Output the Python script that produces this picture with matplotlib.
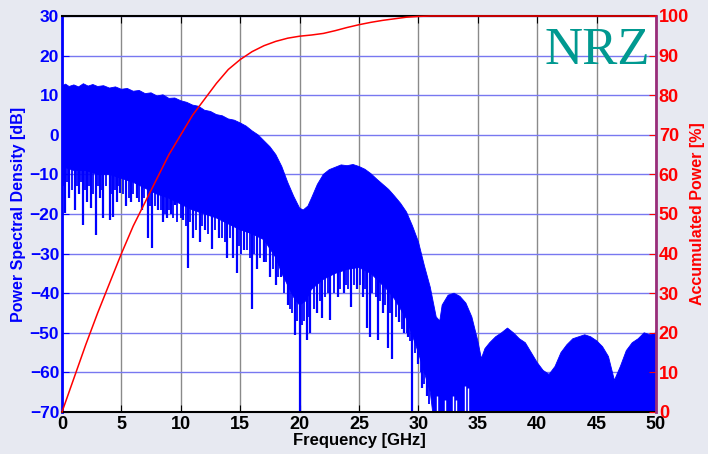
import matplotlib
matplotlib.use("Agg")
import matplotlib.pyplot as plt
import numpy as np

# ---- data ----
# upper envelope of the power spectral density (GHz, dB)
freq_up = [0, 0.3, 0.6, 1, 1.4, 1.8, 2.2, 2.6, 3, 3.5, 4, 4.5, 5, 5.5, 6, 6.5, 7, 7.5, 8,
           8.5, 9, 9.5, 10, 10.5, 11, 11.5, 12, 12.5, 13, 13.5, 14, 14.5, 15, 15.5, 16,
           16.5, 17, 17.5, 18, 18.5, 19, 19.5, 20, 20.3, 20.7, 21, 21.5, 22, 22.5, 23,
           23.5, 24, 24.5, 25, 25.5, 26, 26.5, 27, 27.5, 28, 28.5, 29, 29.5, 30, 30.5,
           31, 31.5, 31.8, 32, 32.5, 33, 33.5, 34, 34.5, 35, 35.3, 35.6, 36, 36.5, 37,
           37.5, 38, 38.5, 39, 39.5, 40, 40.5, 41, 41.5, 42, 42.5, 43, 43.5, 44, 44.5,
           45, 45.5, 46, 46.5, 47, 47.5, 48, 48.5, 49, 49.5, 50]
psd_up = [12.3, 12.8, 12.2, 12.6, 12.1, 12.9, 12.3, 12.7, 12.2, 12.4, 11.8, 12.1, 11.5,
          11.7, 11.0, 11.2, 10.4, 10.6, 9.8, 10.1, 9.2, 9.3, 8.6, 8.2, 7.5, 7.2, 6.2, 5.9,
          5.1, 4.8, 4.0, 3.7, 3.0, 2.2, 1.0, 0.0, -1.5, -3.0, -5.0, -8.0, -12.0, -15.5,
          -18.5, -19.0, -18.0, -16.0, -12.5, -10.0, -8.8, -8.2, -7.6, -7.8, -7.5, -8.0,
          -8.7, -9.8, -11.2, -12.5, -13.8, -15.5, -17.3, -19.5, -23.0, -27.0, -33.0,
          -38.5, -46.0, -47.0, -43.0, -40.5, -40.0, -40.8, -42.5, -46.0, -52.0, -56.5,
          -54.0, -52.5, -51.0, -50.0, -48.8, -50.0, -51.5, -52.5, -55.0, -57.5, -59.5,
          -60.5, -58.5, -55.0, -53.0, -51.5, -51.0, -50.5, -51.0, -52.0, -53.5, -56.0,
          -62.0, -58.5, -54.5, -52.5, -51.5, -50.0, -50.5, -50.0]

# lower edge of the dense part of the spectrum (GHz, dB)
freq_lo = [0, 1, 2, 3, 4, 5, 6, 7, 8, 9, 10, 11, 12, 13, 14, 15, 16, 17, 18, 18.5, 19,
           19.5, 20, 20.5, 21, 22, 23, 24, 25, 26, 27, 27.5, 28, 29, 30, 30.5, 31, 31.2, 50]
psd_lo = [-8, -9, -9, -10, -10, -11, -12, -13.5, -15, -16, -17.5, -19, -20, -21,
          -22.5, -24, -25, -26.5, -31, -35, -38, -41, -43, -42, -39, -36.5, -35, -34,
          -33.5, -35, -38, -39.5, -41.5, -46.5, -55, -60, -65, -70, -70]

# deep notches below the dense part (GHz, dB)
spike_f = [0.25, 0.6, 1.1, 1.4, 1.75, 2.1, 2.4, 2.85, 3.2, 3.45, 4.0, 4.3, 4.6, 4.9, 5.4,
           5.8, 6.3, 6.7, 7.2, 7.6, 8.1, 8.5, 8.8, 9.2, 9.5, 10.2, 10.6, 11.0, 11.6, 12.0,
           12.6, 13.2, 13.9, 14.4, 14.7, 15.3, 16.0, 16.4, 17.0, 17.5, 18.0, 18.4, 19.0,
           19.6, 20.0, 20.6, 20.9, 21.5, 21.9, 22.6, 23.2, 23.7, 24.3, 24.8, 25.3, 25.7,
           25.9, 26.6, 27.0, 27.4, 27.8, 28.4, 28.8, 29.1, 29.5, 30.0, 30.3, 30.7]
spike_db = [-19.8, -16, -19, -15, -22.8, -17, -18.5, -25.3, -16, -21, -21.5, -20.7, -17,
            -14.7, -18, -17, -16, -19, -26, -28.6, -19, -22, -21, -20, -17.7, -21.5, -33.6,
            -26, -27, -24, -28.8, -26, -31, -31, -35, -29, -44, -34, -32, -35.9, -38, -36,
            -43, -50.5, -70, -51.8, -50, -45, -46.3, -46.8, -41, -40, -43.5, -39, -41,
            -48.8, -51, -51.8, -45, -53.8, -56.6, -47.3, -50, -51, -70, -58, -64, -66]

# shallower notches that make the lower edge ragged (GHz, dB)
minor_f = [0.1, 0.4, 0.8, 1.25, 1.6, 1.9, 2.25, 2.6, 3.0, 3.3, 3.7, 4.15, 4.45, 4.75,
           5.1, 5.6, 6.0, 6.5, 6.9, 7.4, 7.8, 8.3, 8.65, 9.0, 9.35, 9.7, 10.0, 10.4,
           10.8, 11.3, 11.8, 12.3, 12.9, 13.5, 13.7, 14.1, 14.9, 15.1, 15.6, 15.8, 16.2,
           16.7, 17.2, 17.8, 18.2, 18.7, 19.2, 19.4, 19.8, 20.2, 20.4, 20.8, 21.2, 21.7,
           22.1, 22.4, 22.9, 23.4, 23.9, 24.1, 24.6, 25.1, 25.5, 26.1, 26.4, 26.8, 27.2,
           27.6, 28.1, 28.6, 29.0, 29.3, 29.7, 30.2, 30.5, 30.9]
minor_db = [-13, -12, -14, -13, -12, -14, -13, -15, -13, -14, -13, -15, -14, -13, -15,
            -16, -15, -17, -16, -18, -18, -19, -20, -19, -21, -22, -21, -23, -22, -24,
            -23, -25, -24, -26, -27, -26, -28, -30, -29, -31, -30, -31, -32, -34, -36,
            -40, -44, -45, -47, -48, -47, -46, -44, -42, -41, -40, -40, -39, -38, -39,
            -38, -38, -39, -40, -41, -42, -43, -45, -46, -49, -50, -52, -55, -60, -63, -68]

# small white gaps at the bottom of the 31-35 GHz lobe (GHz, dB)
gap_f = [31.6, 32.2, 32.9, 33.2, 33.9, 34.2]
gap_db = [-66, -67, -66, -67, -63.5, -64]

# accumulated power (GHz, %)
freq_acc = [0, 1, 2, 3, 4, 5, 6, 7, 8, 9, 10, 11, 12, 13, 14, 15, 16, 17, 18, 19, 20,
            21, 22, 23, 24, 25, 26, 27, 28, 29, 30, 31, 35, 40, 45, 50]
acc_pct = [0, 8.5, 17, 25, 32.5, 40, 47, 53, 59, 65, 70, 75, 79, 83, 86.5, 89, 91, 92.5,
           93.6, 94.4, 94.9, 95.2, 95.6, 96.3, 97.1, 97.8, 98.4, 98.9, 99.3, 99.7, 99.9,
           100, 100, 100, 100, 100]

x_ticks = [0, 5, 10, 15, 20, 25, 30, 35, 40, 45, 50]
left_ticks = [30, 20, 10, 0, -10, -20, -30, -40, -50, -60, -70]
right_ticks = [100, 90, 80, 70, 60, 50, 40, 30, 20, 10, 0]

# ---- drawing ----
plt.rcParams['font.family'] = ['Liberation Sans', 'DejaVu Sans']
plt.rcParams['font.weight'] = 'bold'

fig = plt.figure(figsize=(7.08, 4.54), dpi=100, facecolor='#e7e9f1')
ax = fig.add_axes([62/708, 1-412/454, (656-62)/708, (412-16)/454])
ax.set_facecolor('white')

blue = '#0000ff'
ax.fill(np.r_[freq_up, freq_lo[::-1]], np.r_[psd_up, psd_lo[::-1]],
        color=blue, lw=0.6, zorder=2)
ax.vlines(minor_f, minor_db, np.interp(minor_f, freq_lo, psd_lo) + 2,
          color=blue, lw=1.3, zorder=2)
ax.vlines(spike_f, spike_db, np.interp(spike_f, freq_lo, psd_lo) + 2,
          color=blue, lw=1.6, zorder=2)
ax.vlines(gap_f, -70, gap_db, color='white', lw=1.0, zorder=2.5)

ax.set_xlim(0, 50)
ax.set_ylim(-70, 30)
ax.set_xticks(x_ticks)
ax.set_yticks(left_ticks)
ax.xaxis.grid(True, color='#8a8a8a', lw=1.0, zorder=0)
ax.yaxis.grid(True, color='#7878f0', lw=1.0, zorder=0)
ax.set_axisbelow(True)

ax.tick_params(axis='x', direction='in', top=True, bottom=True, length=5,
               labelsize=13, colors='black', pad=3)
ax.tick_params(axis='y', direction='in', left=True, right=False, length=5,
               labelsize=12.5, colors=blue, pad=2)
for t in ax.get_xticklabels() + ax.get_yticklabels():
    t.set_fontweight('bold')

ax.spines['left'].set_color(blue)
ax.spines['left'].set_linewidth(2)
ax.spines['bottom'].set_color('black')
ax.spines['bottom'].set_linewidth(1.5)
ax.spines['top'].set_color('black')
ax.spines['top'].set_linewidth(1.5)
ax.spines['right'].set_visible(False)

ax.set_xlabel('Frequency [GHz]', fontsize=12, fontweight='bold', color='black', labelpad=0)
ax.set_ylabel('Power Spectral Density [dB]', fontsize=11.5, fontweight='bold', color=blue,
              labelpad=3)

ax2 = ax.twinx()
ax2.plot(freq_acc, acc_pct, color='#ff0000', lw=1.1, clip_on=False, zorder=5)
ax2.set_ylim(0, 100)
ax2.set_yticks(right_ticks)
ax2.tick_params(axis='y', direction='in', right=True, length=5, labelsize=13,
                colors='#ff0000', pad=2)
for t in ax2.get_yticklabels():
    t.set_fontweight('bold')
for s in ['left', 'top', 'bottom']:
    ax2.spines[s].set_visible(False)
ax2.spines['right'].set_color('#992d7a')
ax2.spines['right'].set_linewidth(2)
ax2.set_ylabel('Accumulated Power [%]', fontsize=11.5, fontweight='bold', color='#ff0000',
               rotation=90, labelpad=1)

ax.text(0.99, 0.912, 'NRZ', transform=ax.transAxes, ha='right', va='center',
        fontsize=38, color='#009990', family=['Liberation Serif', 'DejaVu Serif'],
        fontweight='normal', zorder=10)

fig.savefig('out.png', dpi=100, facecolor=fig.get_facecolor())
